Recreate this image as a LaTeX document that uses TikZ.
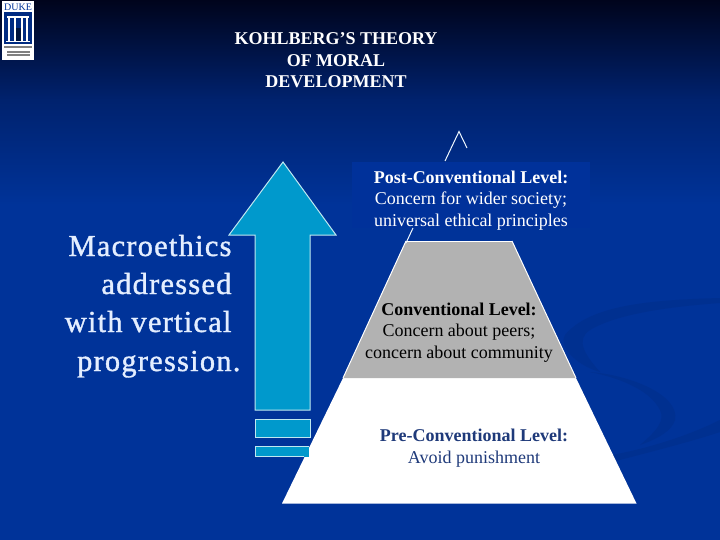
\documentclass[tikz,border=0pt]{standalone}
\usepackage{fontspec}
\setmainfont{Liberation Serif}
\newfontfamily\macrofont[LetterSpace=4,FakeBold=1.2]{Liberation Serif}
\definecolor{bgtop}{HTML}{00041C}
\definecolor{bgmid}{HTML}{00226E}
\definecolor{bgmain}{HTML}{003399}
\definecolor{swoosh}{HTML}{003090}
\definecolor{boxblue}{HTML}{00319A}
\definecolor{arrowblue}{HTML}{0099CC}
\definecolor{edgeblue}{HTML}{BFE8F0}
\definecolor{greylevel}{HTML}{B2B2B2}
\definecolor{pretext}{HTML}{1F3A7A}
\definecolor{lightline}{HTML}{F0F8FF}
\definecolor{macrowhite}{HTML}{E4EEFF}
\tikzset{
  titletext/.style={text=white,align=center,font=\bfseries\fontsize{18}{21.6}\selectfont},
  leveltext/.style={align=center,font=\fontsize{18}{21.6}\selectfont},
  macrotext/.style={text=macrowhite,anchor=base east,font=\macrofont\fontsize{30.5}{34}\selectfont},
  arrowpart/.style={fill=arrowblue,draw=edgeblue,line width=1pt},
  swooshband/.style={fill=swoosh,draw=none}
}
\begin{document}
\begin{tikzpicture}[x=1pt,y=-1pt]
\useasboundingbox (0,0) rectangle (720,540);
% background
\fill[bgmain] (0,0) rectangle (720,540);
\shade[top color=bgtop,bottom color=bgmid] (0,0) rectangle (720,100);
\shade[top color=bgmid,bottom color=bgmain] (0,100) rectangle (720,205);
% swooshes
\fill[swooshband] (720,298) .. controls (650,300) and (590,305) .. (565,335) .. controls (558,345) and (575,365) .. (600,372) .. controls (585,355) and (575,340) .. (590,330) .. controls (620,312) and (680,306) .. (720,303) -- cycle;
\fill[swooshband] (590,372) .. controls (630,375) and (680,395) .. (675,420) .. controls (672,430) and (660,438) .. (640,445) .. controls (658,430) and (665,420) .. (660,410) .. controls (650,390) and (620,378) .. (590,372) -- cycle;
\fill[swooshband] (612,455) .. controls (650,448) and (690,435) .. (720,420) -- (720,432) .. controls (690,442) and (650,452) .. (612,462) -- cycle;
% arrow
\draw[arrowpart] (283,162) -- (336,235) -- (310,235) -- (310,410) -- (255,410) -- (255,235) -- (229,235) -- cycle;
\draw[arrowpart] (255,419) rectangle (310,437);
% pyramid
\fill[white] (282,503.5) -- (343,378) -- (576,378) -- (636.5,503.5) -- cycle;
\fill[greylevel] (343,378) -- (406,241) -- (512,241) -- (576,378) -- cycle;
\draw[white,line width=1pt] (406,241) -- (512,241);
\draw[white,line width=1pt] (343,378) -- (406,241);
\draw[white,line width=1pt] (576,378) -- (512,241);
% third bar, over the pyramid
\fill[arrowblue] (255,446) rectangle (309,456.5);
\draw[edgeblue,line width=1pt] (309,446) -- (255,446) -- (255,456.5) -- (304,456.5);
% post-conventional box and pyramid tip
\fill[boxblue] (352,162) rectangle (590,228);
\draw[lightline,line width=1pt] (445,161) -- (459,131.5) -- (467,148);
\draw[lightline,line width=1pt] (413,228) -- (406,243);
% title
\node[titletext] (title) at (336,60.5) {KOHLBERG’S THEORY\\OF MORAL\\DEVELOPMENT};
% left text
\node[macrotext] (m1) at (235,256) {Macroethics};
\node[macrotext] (m2) at (235,294) {addressed};
\node[macrotext] (m3) at (235,332) {with vertical};
\node[macrotext] (m4) at (244,371) {progression.};
% level texts
\node[leveltext,text=white] (post) at (471,200.5) {\textbf{Post-Conventional Level:}\\Concern for wider society;\\universal ethical principles};
\node[leveltext,text=black] (conv) at (459,332.5) {\textbf{Conventional Level:}\\Concern about peers;\\concern about community};
\node[leveltext,text=pretext] (pre) at (474,448) {\textbf{Pre-Conventional Level:}\\Avoid punishment};
% logo
\fill[white] (2,1) rectangle (34,60);
\node[inner sep=0pt,text=bgmain,font=\fontsize{10}{10}\selectfont] (duke) at (18,7) {DUKE};
\fill[bgmain!85!black] (4,12) rectangle (32,44);
\fill[white] (7,16) rectangle (29,18);
\fill[white] (8,18) rectangle (10,41);
\fill[white] (14,18) rectangle (15.5,41);
\fill[white] (21,18) rectangle (22.5,41);
\fill[white] (26,18) rectangle (28,41);
\fill[bgmain!40!black] (15.5,28) rectangle (21,41);
\fill[white] (6,41) rectangle (30,42);
\fill[gray] (4,46) rectangle (32,48);
\fill[gray] (7,51) rectangle (30,53);
\fill[gray] (7,54.5) rectangle (30,56.5);
\end{tikzpicture}
\end{document}
